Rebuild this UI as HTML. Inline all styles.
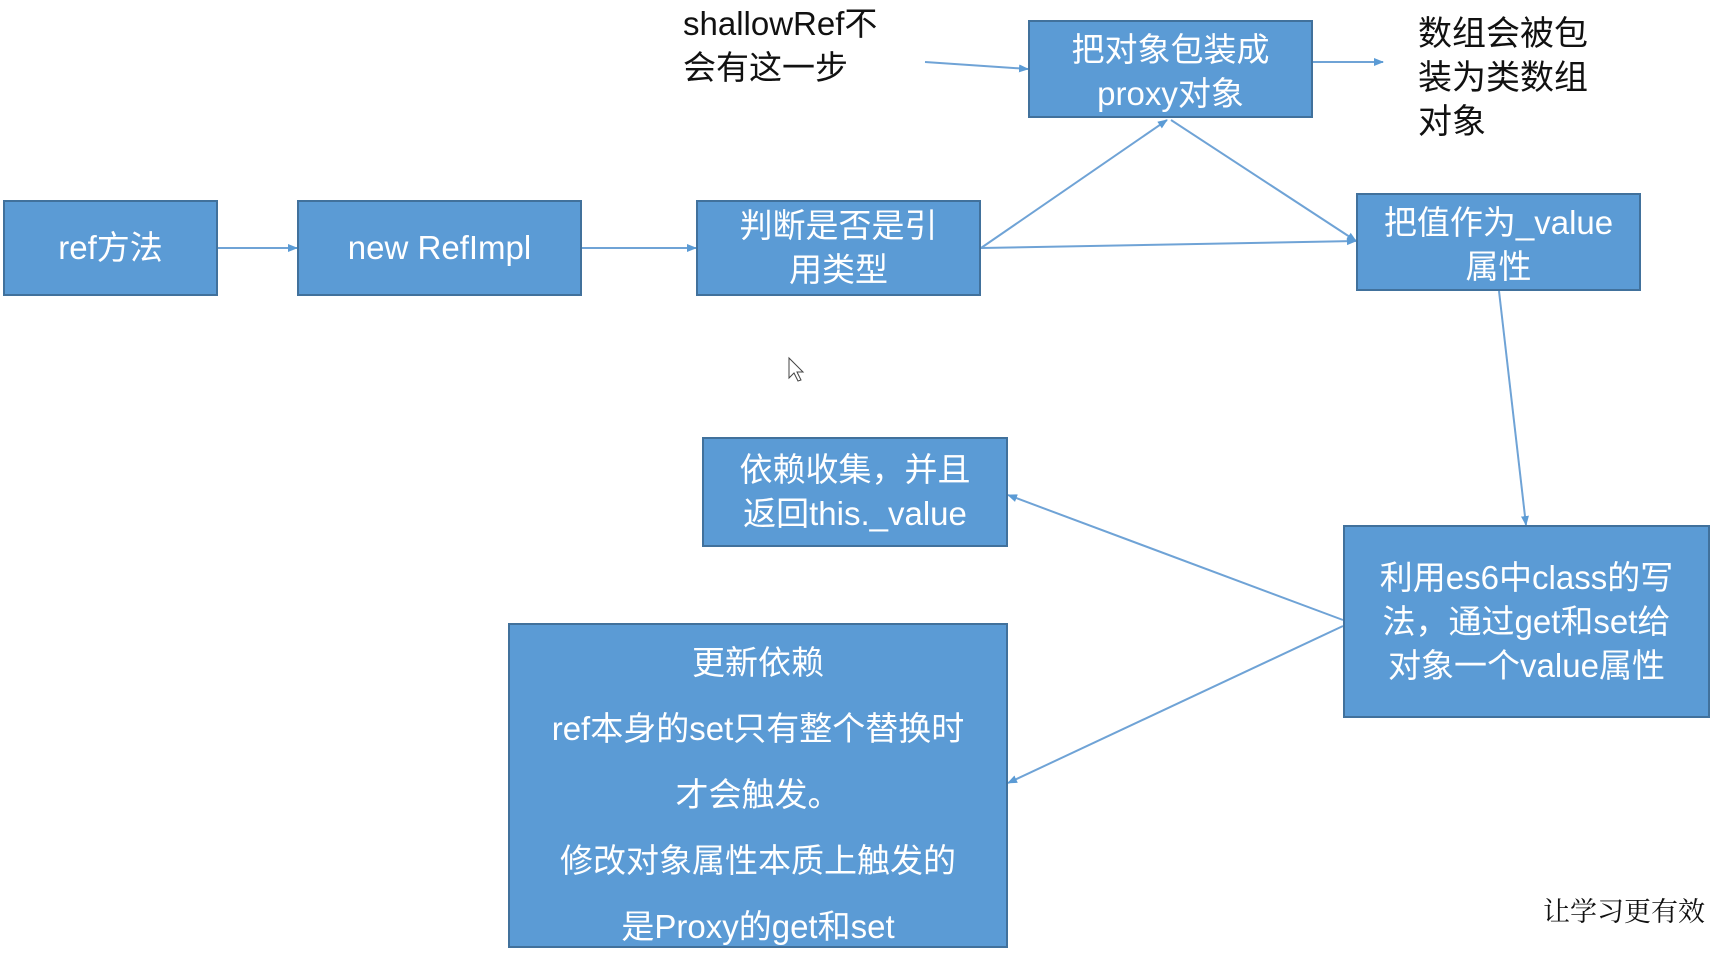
<!DOCTYPE html>
<html><head><meta charset="utf-8"><style>
html,body{margin:0;padding:0;background:#fff;}
body{width:1713px;height:950px;position:relative;overflow:hidden;font-family:"Liberation Sans","Noto Sans CJK SC",sans-serif;}
.b{position:absolute;box-sizing:border-box;background:#5b9bd5;border:2px solid #41719c;color:#fff;font-size:33px;line-height:44px;display:flex;align-items:center;justify-content:center;text-align:center;}
.t{position:absolute;color:#111;font-size:33px;line-height:44px;}
svg{position:absolute;left:0;top:0;}
</style></head><body>
<svg width="1713" height="950">
<defs><marker id="a" markerWidth="10" markerHeight="10" refX="9" refY="5" orient="auto" markerUnits="userSpaceOnUse"><path d="M0,1 L10,5 L0,9 z" fill="#5b9bd5"/></marker></defs>
<g stroke="#6fa3d6" stroke-width="2" fill="none" marker-end="url(#a)">
<line x1="218" y1="248" x2="297" y2="248"/>
<line x1="582" y1="248" x2="696" y2="248"/>
<line x1="925" y1="62" x2="1028" y2="69"/>
<line x1="1313" y1="62" x2="1383" y2="62"/>
<line x1="981" y1="248" x2="1167" y2="120"/>
<line x1="981" y1="248" x2="1356" y2="241"/>
<line x1="1171" y1="120" x2="1356" y2="241"/>
<line x1="1499" y1="291" x2="1526" y2="525"/>
<line x1="1343" y1="620" x2="1008" y2="495"/>
<line x1="1343" y1="626" x2="1008" y2="783"/>
</g>
<path d="M789,358 L789,378 L794,373 L798,381 L801,380 L797,372 L803,372 Z" fill="#fff" stroke="#444" stroke-width="1"/>
</svg>
<div class="b" style="left:3px;top:200px;width:215px;height:96px;">ref方法</div>
<div class="b" style="left:297px;top:200px;width:285px;height:96px;">new RefImpl</div>
<div class="b" style="left:696px;top:200px;width:285px;height:96px;">判断是否是引<br>用类型</div>
<div class="b" style="left:1028px;top:20px;width:285px;height:98px;padding-top:6px;">把对象包装成<br>proxy对象</div>
<div class="b" style="left:1356px;top:193px;width:285px;height:98px;padding-top:6px;">把值作为_value<br>属性</div>
<div class="b" style="left:702px;top:437px;width:306px;height:110px;">依赖收集，并且<br>返回this._value</div>
<div class="b" style="left:1343px;top:525px;width:367px;height:193px;">利用es6中class的写<br>法，通过get和set给<br>对象一个value属性</div>
<div class="b" style="left:508px;top:623px;width:500px;height:325px;line-height:66px;padding-top:18px;">更新依赖<br>ref本身的set只有整个替换时<br>才会触发。<br>修改对象属性本质上触发的<br>是Proxy的get和set</div>
<div class="t" style="left:683px;top:2px;">shallowRef不<br>会有这一步</div>
<div class="t" style="left:1418px;top:12px;font-size:34px;">数组会被包<br>装为类数组<br>对象</div>
<div class="t" style="left:1543px;top:888px;font-size:27px;font-family:'Noto Serif CJK SC',serif;">让学习更有效</div>
</body></html>
